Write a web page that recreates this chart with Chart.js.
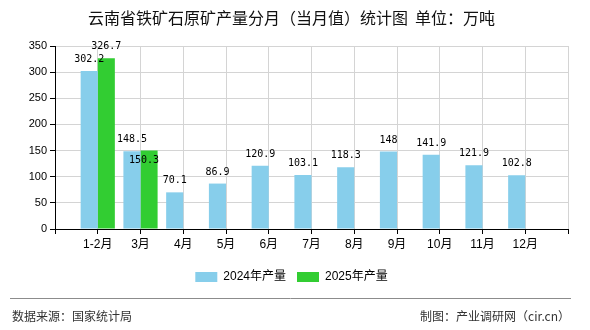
<!DOCTYPE html>
<html>
<head>
<meta charset="utf-8">
<script src="https://cdn.jsdelivr.net/npm/chart.js@4.4.1/dist/chart.umd.min.js"></script>
<style>
  html, body { margin: 0; padding: 0; background: #fff; }
  #wrap { width: 590px; height: 330px; position: relative; }
</style>
</head>
<body>
<div id="wrap"><canvas id="chart" width="590" height="330"></canvas></div>
<script>
// Monthly iron ore output, Yunnan (10k tonnes)
const months = ['1-2月', '3月', '4月', '5月', '6月', '7月', '8月', '9月', '10月', '11月', '12月'];
const output2024 = [302.2, 148.5, 70.1, 86.9, 120.9, 103.1, 118.3, 148, 141.9, 121.9, 102.8];
const output2025 = [326.7, 150.3];
const seriesNames = ['2024年产量', '2025年产量'];
const yTicks = [0, 50, 100, 150, 200, 250, 300, 350];

const titleText = '云南省铁矿石原矿产量分月（当月值）统计图  单位：万吨';
const sourceText = '数据来源：国家统计局';
const creditText = '制图：产业调研网（cir.cn）';

// the axis runs one empty slot before the first month and after the last
const labels = [''].concat(months, ['']);
const pad = arr => [null].concat(arr, new Array(labels.length - 1 - arr.length).fill(null));

// value labels above each bar; a label that would collide is tucked just under the bar top
const valueLabels = {
  id: 'valueLabels',
  afterDatasetsDraw(chart) {
    const ctx = chart.ctx;
    ctx.save();
    ctx.font = '10px "DejaVu Sans Mono", monospace';
    ctx.fillStyle = '#000';
    ctx.textAlign = 'center';
    ctx.textBaseline = 'alphabetic';
    const placed = {};
    chart.data.datasets.forEach((ds, di) => {
      const meta = chart.getDatasetMeta(di);
      meta.data.forEach((bar, i) => {
        const v = ds.data[i];
        if (v == null) return;
        const text = String(v);
        const w = ctx.measureText(text).width;
        const h = 8;
        let base = bar.y - 9;
        let box = { l: bar.x - w / 2, r: bar.x + w / 2, t: base - h, b: base };
        const prev = placed[i] || (placed[i] = []);
        const hit = prev.some(p => p.l < box.r && box.l < p.r && p.t < box.b && box.t < p.b);
        let x = bar.x;
        if (hit) {
          base = bar.y + 5 + h;
          x = bar.x - 5;
          box = { l: x - w / 2, r: x + w / 2, t: base - h, b: base };
        }
        prev.push(box);
        ctx.fillText(text, x, base);
      });
    });
    ctx.restore();
  }
};

// source line and credit at the foot of the chart
const footer = {
  id: 'footer',
  afterDraw(chart) {
    const ctx = chart.ctx;
    ctx.save();
    ctx.strokeStyle = '#8c8c8c';
    ctx.lineWidth = 1;
    ctx.beginPath();
    ctx.moveTo(10, 298.5);
    ctx.lineTo(571, 298.5);
    ctx.stroke();
    ctx.font = '12px "Noto Sans CJK SC", sans-serif';
    ctx.fillStyle = '#333';
    ctx.textBaseline = 'middle';
    ctx.textAlign = 'left';
    ctx.fillText(sourceText, 12, 316.5);
    ctx.textAlign = 'right';
    ctx.fillText(creditText, 570, 316.5);
    ctx.restore();
  }
};

new Chart(document.getElementById('chart'), {
  type: 'bar',
  data: {
    labels: labels,
    datasets: [
      { label: seriesNames[0], data: pad(output2024), backgroundColor: '#87CEEB' },
      { label: seriesNames[1], data: pad(output2025), backgroundColor: '#32CD32' }
    ]
  },
  options: {
    responsive: false,
    devicePixelRatio: 1,
    animation: false,
    layout: { padding: { top: 0, left: 0, right: 7, bottom: 37 } },
    datasets: { bar: { categoryPercentage: 0.8, barPercentage: 1 } },
    plugins: {
      title: {
        display: true,
        text: titleText,
        color: '#111',
        font: { family: '"Noto Sans CJK SC", sans-serif', size: 16, weight: 'normal', lineHeight: 1.2 },
        padding: { top: 8.4, bottom: 18.4 }
      },
      legend: {
        position: 'bottom',
        labels: {
          boxWidth: 22,
          boxHeight: 10,
          padding: 11,
          color: '#000',
          font: { family: '"Liberation Sans", "Noto Sans CJK SC", sans-serif', size: 12 }
        }
      },
      tooltip: { enabled: false }
    },
    scales: {
      x: {
        offset: false,
        grid: { offset: false, color: '#d4d4d4', tickColor: '#000', tickLength: 5 },
        border: { color: '#000' },
        ticks: {
          autoSkip: false,
          maxRotation: 0,
          padding: 3,
          color: '#000',
          font: { family: '"Liberation Sans", "Noto Sans CJK SC", sans-serif', size: 12 }
        },
        afterFit(s) { s.height = 31; s.paddingRight = 22; }
      },
      y: {
        min: 0,
        max: 350,
        afterBuildTicks(s) { s.ticks = yTicks.map(v => ({ value: v })); },
        grid: { color: '#d4d4d4', tickColor: '#000', tickLength: 5 },
        border: { color: '#000' },
        ticks: {
          padding: 3,
          color: '#000',
          font: { family: '"Liberation Sans", sans-serif', size: 11 }
        },
        afterFit(s) { s.width = 55; }
      }
    }
  },
  plugins: [valueLabels, footer]
});
</script>
</body>
</html>
